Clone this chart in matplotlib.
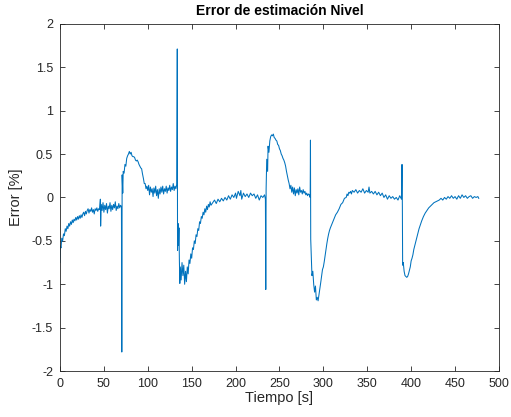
import numpy as np
import matplotlib
matplotlib.use('Agg')
import matplotlib.pyplot as plt

# tiempo [s] y error [%]
tiempo = [0, 0.4, 1.2, 2, 3, 4, 5, 6, 7, 8, 9, 10, 11, 12, 13, 14, 15, 16, 17, 18, 19,
          20, 21, 22, 23, 24, 25, 26, 27, 28, 29, 30, 31, 32, 33, 34, 35, 36, 37, 38, 39,
          40, 41, 42, 43, 44, 45, 46, 46.3, 47, 48, 49, 50, 51, 52, 53, 54, 55, 56, 57, 58, 59,
          60, 61, 62, 63, 64, 65, 66, 67, 68, 69, 70, 70.4, 70.8, 71.5, 72, 73, 74, 75, 76, 77, 78, 79,
          80, 81, 82, 83, 84, 85, 86, 87, 88, 89, 90, 91, 92, 93, 94, 95, 96, 97, 98, 99,
          100, 101, 102, 103, 104, 105, 106, 107, 108, 109, 110, 111, 112, 113, 114, 115, 116, 117, 118, 119,
          120, 121, 122, 123, 124, 125, 126, 127, 128, 129, 130, 131, 132, 133, 133.6, 133.9, 134.5, 135, 135.5, 136,
          136.5, 137, 138, 139, 140, 141, 142, 143, 144, 145, 146, 147, 148, 149, 150, 151, 152, 153, 154, 155,
          156, 157, 158, 159, 160, 161, 162, 163, 164, 165, 166, 167, 168, 169, 170, 171, 172, 174, 176, 178,
          180, 182, 184, 186, 188, 190, 192, 194, 196, 198, 200, 201, 203, 205, 206, 207, 209, 211, 213, 215,
          217, 219, 221, 223, 225, 227, 229, 231, 233, 234, 234.4, 234.8, 235.5, 236.5, 237, 238, 239, 240,
          241, 242, 243, 244, 245, 246, 247, 248, 249, 250, 251, 252, 253, 254, 255, 256, 257, 258, 259, 260,
          261, 262, 263, 264, 265, 266, 267, 268, 269, 270, 271, 272, 273, 274, 275, 276, 277, 278, 279, 280,
          281, 282, 283, 284, 285, 285.3, 285.6, 286.5, 287, 288, 289, 290, 291, 292, 293, 294, 295, 296, 297, 298,
          299, 300, 301, 302, 303, 304, 305, 306, 307, 308, 310, 312, 314, 316, 318, 320, 322, 324, 326, 327,
          328, 329, 330, 331, 332, 333, 335, 337, 339, 341, 343, 345, 347, 349, 351, 352, 353, 355, 357, 359,
          361, 363, 365, 367, 369, 371, 373, 375, 377, 379, 381, 383, 385, 387, 389, 389.6, 390, 390.3, 391, 392,
          393, 394, 395, 396, 397, 398, 399, 400, 401, 402, 403, 404, 405, 406, 407, 408, 409, 410, 412, 414,
          416, 418, 420, 422, 424, 426, 428, 430, 432, 434, 436, 438, 440, 442, 444, 446, 448, 450, 452, 454,
          456, 458, 460, 462, 464, 466, 468, 470, 472, 474, 476, 477]

error = [-0.75, -0.56, -0.58, -0.47, -0.5, -0.42, -0.44, -0.36, -0.39, -0.33, -0.36, -0.3, -0.33, -0.28, -0.31, -0.26, -0.29, -0.25, -0.27, -0.23, -0.26,
         -0.22, -0.25, -0.21, -0.24, -0.2, -0.23, -0.19, -0.17, -0.21, -0.16, -0.19, -0.15, -0.13, -0.18, -0.14, -0.16, -0.12, -0.17, -0.14, -0.19,
         -0.13, -0.15, -0.12, -0.16, -0.13, -0.14, -0.02, -0.33, -0.08, -0.15, -0.06, -0.17, -0.09, -0.14, -0.07, -0.18, -0.1, -0.13, -0.06, -0.16, -0.09,
         -0.14, -0.08, -0.12, -0.05, -0.15, -0.1, -0.13, -0.07, -0.12, -0.09, -0.11, -1.78, 0.26, 0.05, 0.3, 0.28, 0.38, 0.36, 0.45, 0.48, 0.5, 0.53,
         0.5, 0.52, 0.48, 0.47, 0.47, 0.46, 0.43, 0.42, 0.43, 0.41, 0.38, 0.36, 0.34, 0.33, 0.27, 0.22, 0.16, 0.16, 0.1, 0.13,
         0.08, 0.14, 0.03, 0.12, 0.06, 0.1, 0.01, 0.11, 0.05, 0.13, 0.02, 0.09, -0.01, 0.1, 0.04, 0.12, 0.06, 0.13, 0.04, 0.1,
         0.07, 0.13, 0.05, 0.11, 0.08, 0.14, 0.07, 0.12, 0.09, 0.16, 0.08, 0.13, 0.1, 0.15, 1.71, -0.61, -0.3, -0.55, -0.35, -0.72,
         -0.99, -0.8, -0.95, -0.75, -0.9, -0.78, -1.0, -0.85, -0.97, -0.8, -0.88, -0.72, -0.76, -0.65, -0.7, -0.58, -0.6, -0.5, -0.53, -0.43,
         -0.45, -0.36, -0.38, -0.28, -0.3, -0.22, -0.24, -0.17, -0.2, -0.13, -0.17, -0.1, -0.14, -0.08, -0.11, -0.05, -0.09, -0.06, -0.03, -0.07,
         -0.02, -0.05, -0.01, -0.04, 0.0, -0.03, 0.02, -0.02, 0.03, 0.0, 0.05, -0.01, 0.07, 0.02, 0.08, -0.02, 0.05, 0.01, 0.04, 0.0,
         0.05, 0.02, 0.04, -0.01, 0.03, -0.03, 0.02, 0.0, 0.03, -0.02, -1.06, 0.1, 0.44, 0.3, 0.59, 0.52, 0.65, 0.7,
         0.72, 0.71, 0.73, 0.69, 0.68, 0.66, 0.65, 0.61, 0.6, 0.56, 0.54, 0.5, 0.48, 0.45, 0.43, 0.4, 0.36, 0.3, 0.25, 0.2,
         0.16, 0.1, 0.14, 0.06, 0.12, 0.04, 0.11, 0.02, 0.09, 0.05, 0.1, 0.03, 0.12, 0.06, 0.08, 0.04, 0.09, 0.05, 0.07, 0.03,
         0.05, 0.02, 0.04, 0.03, 0.0, 0.66, -0.48, -0.75, -0.9, -0.85, -1.0, -1.09, -1.02, -1.18, -1.15, -1.19, -1.12, -1.05, -0.98, -0.9,
         -0.83, -0.8, -0.74, -0.67, -0.6, -0.53, -0.47, -0.42, -0.38, -0.35, -0.3, -0.25, -0.2, -0.17, -0.13, -0.08, -0.06, -0.01, 0.0, 0.04,
         0.02, 0.06, 0.05, 0.07, 0.04, 0.08, 0.06, 0.09, 0.05, 0.08, 0.06, 0.1, 0.05, 0.08, 0.06, 0.12, 0.05, 0.07, 0.04, 0.07,
         0.03, 0.06, 0.02, 0.05, 0.0, 0.03, -0.02, 0.02, -0.01, 0.01, -0.02, 0.0, -0.03, 0.02, -0.02, 0.38, -0.11, -0.78, -0.75, -0.85,
         -0.9, -0.91, -0.92, -0.91, -0.88, -0.84, -0.8, -0.73, -0.7, -0.66, -0.6, -0.56, -0.52, -0.48, -0.44, -0.4, -0.36, -0.33, -0.27, -0.22,
         -0.18, -0.15, -0.12, -0.1, -0.08, -0.06, -0.05, -0.04, -0.03, -0.01, -0.03, 0.0, -0.02, 0.01, -0.01, 0.02, -0.01, 0.01, -0.02, 0.02,
         -0.01, 0.03, 0.0, 0.02, -0.01, 0.01, 0.02, -0.01, 0.01, 0.0, 0.01, -0.01]

xticks = np.arange(0, 501, 50)
yticks = np.arange(-2, 2.01, 0.5)

plt.rcParams['font.family'] = ['Liberation Sans', 'DejaVu Sans']
gris = '#262626'

fig = plt.figure(figsize=(5.11, 4.17), dpi=100)
ax = fig.add_axes([0.1174, 0.11, 0.859, 0.833])
ax.plot(tiempo, error, color='#0072BD', lw=0.75)

ax.set_xlim(0, 500)
ax.set_ylim(-2, 2)
ax.set_xticks(xticks)
ax.set_yticks(yticks)
ax.set_yticklabels(['-2', '-1.5', '-1', '-0.5', '0', '0.5', '1', '1.5', '2'])
ax.tick_params(direction='in', top=True, right=True, length=3.5, width=0.6,
               labelsize=9, colors=gris)
ax.tick_params(axis='x', pad=5)
ax.tick_params(axis='y', pad=5)
for s in ax.spines.values():
    s.set_color(gris)
    s.set_linewidth(0.6)

ax.set_xlabel('Tiempo [s]', fontsize=10.5, color=gris, labelpad=1)
ax.set_ylabel('Error [%]', fontsize=10.5, color=gris, labelpad=6)
ax.set_title('Error de estimación Nivel', fontsize=10, fontweight='bold', color='black', pad=6)

fig.savefig('out.png', dpi=100)
